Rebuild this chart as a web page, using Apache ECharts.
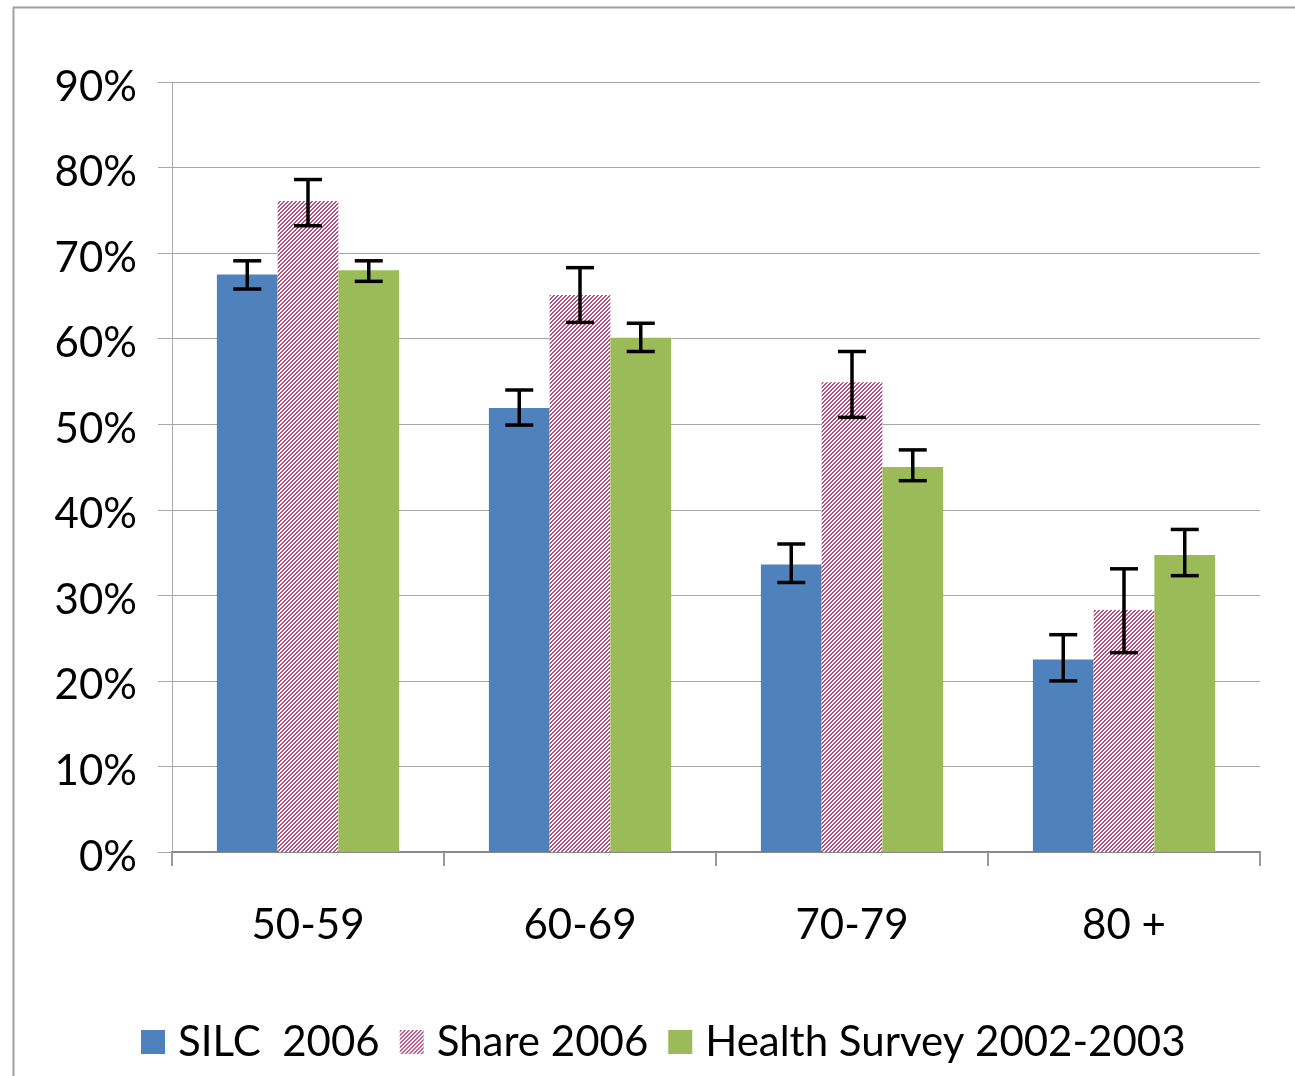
<!DOCTYPE html>
<html>
<head>
<meta charset="utf-8">
<script src="https://cdn.jsdelivr.net/npm/echarts@6/dist/echarts.min.js"></script>
<style>
  html, body { margin: 0; padding: 0; background: #fff; }
  #chart { width: 1295px; height: 1076px; }
</style>
</head>
<body>
<div id="chart"></div>
<script>
// age groups
var categories = ["50-59", "60-69", "70-79", "80 +"];
var seriesNames = ["SILC  2006", "Share 2006", "Health Survey 2002-2003"];
var yTicks = [0, 0.1, 0.2, 0.3, 0.4, 0.5, 0.6, 0.7, 0.8, 0.9];

// bar values (share of people)
var silc = [0.675, 0.519, 0.336, 0.225];
var share = [0.761, 0.651, 0.549, 0.283];
var health = [0.680, 0.601, 0.450, 0.347];

// error bar bounds
var silcLow = [0.658, 0.499, 0.315, 0.200];
var silcHigh = [0.691, 0.540, 0.360, 0.254];
var shareLow = [0.732, 0.619, 0.508, 0.233];
var shareHigh = [0.786, 0.683, 0.585, 0.331];
var healthLow = [0.667, 0.585, 0.434, 0.323];
var healthHigh = [0.691, 0.618, 0.470, 0.377];

// hatch pattern for the Share series
function makeHatch() {
  var c = document.createElement("canvas");
  c.width = 4;
  c.height = 4;
  var ctx = c.getContext("2d");
  ctx.fillStyle = "#ffffff";
  ctx.fillRect(0, 0, 4, 4);
  ctx.fillStyle = "#bb4f82";
  for (var x = 0; x < 4; x++) {
    for (var y = 0; y < 4; y++) {
      if ((x + y) % 4 === 0 || (x + y) % 4 === 1) ctx.fillRect(x, y, 1, 1);
    }
  }
  return c;
}

var catGap = 0.33;

function errData(low, high) {
  return categories.map(function (c, i) { return [i, low[i], high[i]]; });
}

function errSeries(name, idx, low, high) {
  return {
    name: name + " err",
    type: "custom",
    z: 5,
    silent: true,
    data: errData(low, high),
    renderItem: function (params, api) {
      var catW = api.size([1, 0])[0];
      var bw = catW * (1 - catGap) / 3;
      var center = api.coord([api.value(0), 0])[0] + (idx - 1) * bw;
      var yLo = api.coord([api.value(0), api.value(1)])[1];
      var yHi = api.coord([api.value(0), api.value(2)])[1];
      var cap = 14;
      var st = { stroke: "#000", lineWidth: 3.5 };
      return {
        type: "group",
        children: [
          { type: "line", shape: { x1: center, y1: yLo, x2: center, y2: yHi }, style: st },
          { type: "line", shape: { x1: center - cap, y1: yLo, x2: center + cap, y2: yLo }, style: st },
          { type: "line", shape: { x1: center - cap, y1: yHi, x2: center + cap, y2: yHi }, style: st }
        ]
      };
    }
  };
}

var myChart = echarts.init(document.getElementById("chart"));
var fontFamily = "Lato, 'Open Sans', sans-serif";
var hatch = { image: makeHatch(), repeat: "repeat" };

var option = {
  animation: false,
  textStyle: { fontFamily: fontFamily },
  graphic: [
    {
      type: "rect",
      left: 11,
      top: 5,
      shape: { width: 1300, height: 1100 },
      style: { fill: "none", stroke: "#a0a0a0", lineWidth: 2 },
      silent: true
    }
  ],
  grid: {
    left: 172,
    right: 35,
    top: 82,
    bottom: 224
  },
  legend: {
    left: 136,
    top: 1016,
    itemWidth: 24,
    itemHeight: 24,
    itemGap: 20,
    icon: "rect",
    data: seriesNames,
    textStyle: {
      fontSize: 42,
      color: "#000",
      fontFamily: fontFamily,
      padding: [0, 0, 0, 8]
    }
  },
  xAxis: {
    type: "category",
    data: categories,
    axisLine: { lineStyle: { color: "#888888", width: 2 } },
    axisTick: { show: true, length: 14, lineStyle: { color: "#999999", width: 2 } },
    axisLabel: { fontSize: 42, color: "#000", margin: 52, fontFamily: fontFamily }
  },
  yAxis: {
    type: "value",
    min: 0,
    max: 0.9,
    interval: 0.1,
    axisLine: { show: true, lineStyle: { color: "#aaaaaa", width: 1 } },
    axisTick: { show: true, length: 14, lineStyle: { color: "#aaaaaa", width: 1 } },
    splitLine: { lineStyle: { color: "#a6a6a6", width: 1 } },
    axisLabel: {
      color: "#000",
      margin: 35,
      fontFamily: fontFamily,
      formatter: function (v) {
        var t = yTicks.find(function (k) { return Math.abs(k - v) < 1e-6; });
        return "{p|" + Math.round((t !== undefined ? t : v) * 100) + "%}";
      },
      rich: {
        p: { fontSize: 42, color: "#000", fontFamily: fontFamily, padding: [10, 0, 0, 0] }
      }
    }
  },
  series: [
    {
      name: seriesNames[0],
      type: "bar",
      data: silc,
      barGap: "0%",
      barCategoryGap: "33%",
      itemStyle: { color: "#4f81bd" }
    },
    {
      name: seriesNames[1],
      type: "bar",
      data: share,
      barGap: "0%",
      barCategoryGap: "33%",
      itemStyle: { color: hatch }
    },
    {
      name: seriesNames[2],
      type: "bar",
      data: health,
      barGap: "0%",
      barCategoryGap: "33%",
      itemStyle: { color: "#9bbb59" }
    },
    errSeries(seriesNames[0], 0, silcLow, silcHigh),
    errSeries(seriesNames[1], 1, shareLow, shareHigh),
    errSeries(seriesNames[2], 2, healthLow, healthHigh)
  ]
};

myChart.setOption(option);
</script>
</body>
</html>
